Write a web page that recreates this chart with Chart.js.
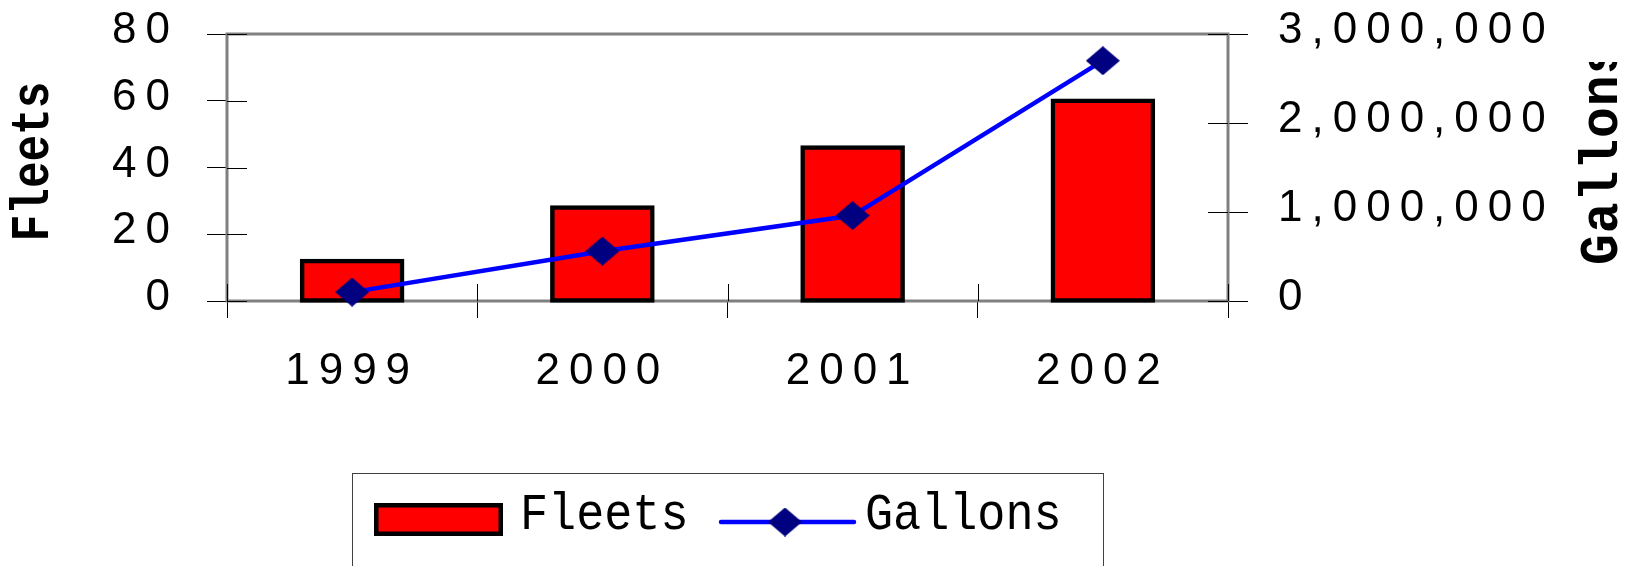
<!DOCTYPE html>
<html>
<head>
<meta charset="utf-8">
<script src="https://cdn.jsdelivr.net/npm/chart.js@4.4.1/dist/chart.umd.min.js"></script>
<style>
html, body { margin: 0; padding: 0; background: #fff; }
#chart { display: block; }
</style>
</head>
<body>
<canvas id="chart" width="1629" height="566"></canvas>
<script>
const years = ['1999', '2000', '2001', '2002'];
const fleets = [12, 28, 46, 60];
const gallons = [100000, 560000, 960000, 2700000];
const fleetTicks = [0, 20, 40, 60, 80];
const gallonTicks = [0, 1000000, 2000000, 3000000];

const RED = '#ff0000';
const BLUE = '#0000ff';
const NAVY = '#000080';
const FRAME = '#808080';
const TICK_FONT = { family: 'Liberation Sans', size: 44 };

// navy diamond marker, used for the points and the legend
function diamond(w, h) {
    const c = document.createElement('canvas');
    c.width = w;
    c.height = h;
    const g = c.getContext('2d');
    g.fillStyle = NAVY;
    g.beginPath();
    g.moveTo(w / 2, 0);
    g.lineTo(w, h / 2);
    g.lineTo(w / 2, h);
    g.lineTo(0, h / 2);
    g.closePath();
    g.fill();
    return c;
}
const marker = diamond(34, 29);

// wide letter spacing for the tick labels
const spacing = {
    id: 'spacing',
    beforeLayout(chart) { chart.ctx.letterSpacing = '9px'; },
    beforeDraw(chart) { chart.ctx.letterSpacing = '9px'; }
};

// grey plot frame and the inner half of the tick marks
const frame = {
    id: 'frame',
    beforeDatasetsDraw(chart) {
        const { ctx, chartArea: a, scales } = chart;
        ctx.save();
        ctx.strokeStyle = FRAME;
        ctx.lineWidth = 3;
        ctx.strokeRect(a.left, a.top, a.right - a.left, a.bottom - a.top);
        ctx.strokeStyle = '#000';
        ctx.lineWidth = 1;
        ctx.beginPath();
        fleetTicks.forEach(v => {
            const py = Math.round(scales.y.getPixelForValue(v)) + 0.5;
            ctx.moveTo(a.left, py);
            ctx.lineTo(a.left + 20, py);
        });
        gallonTicks.forEach(v => {
            const py = Math.round(scales.y2.getPixelForValue(v)) + 0.5;
            ctx.moveTo(a.right - 20, py);
            ctx.lineTo(a.right, py);
        });
        for (let i = 0; i <= years.length; i++) {
            const px = Math.round(scales.x.getPixelForValue(i - 0.5)) + 0.5;
            ctx.moveTo(px, a.bottom);
            ctx.lineTo(px, a.bottom - 17);
        }
        ctx.stroke();
        ctx.restore();
    }
};

// axis titles and the boxed legend
const extras = {
    id: 'extras',
    afterDraw(chart) {
        const { ctx, chartArea: a } = chart;
        const ds = chart.data.datasets;
        ctx.save();
        ctx.letterSpacing = '0px';
        ctx.fillStyle = '#000';

        // left title, reads upward
        ctx.save();
        ctx.font = 'bold 54px "Liberation Mono"';
        ctx.textAlign = 'center';
        ctx.textBaseline = 'alphabetic';
        ctx.translate(48, (a.top + a.bottom) / 2 - 6);
        ctx.rotate(-Math.PI / 2);
        ctx.scale(0.82, 1);
        ctx.fillText(ds[0].label, 0, 0);
        ctx.restore();

        // right title, also reads upward, cut at the top like the original
        ctx.save();
        ctx.beginPath();
        ctx.rect(1560, 62, 69, 300);
        ctx.clip();
        ctx.font = 'bold 54px "Liberation Mono"';
        ctx.textAlign = 'left';
        ctx.textBaseline = 'alphabetic';
        ctx.translate(1617, 265);
        ctx.rotate(-Math.PI / 2);
        ctx.scale(0.95, 1);
        ctx.letterSpacing = '1px';
        ctx.fillText(ds[1].label, 0, 0);
        ctx.restore();

        // legend
        const cx = (a.left + a.right) / 2;
        const lx = cx - 375.5;
        ctx.strokeStyle = '#404040';
        ctx.lineWidth = 1;
        ctx.strokeRect(Math.round(lx) + 0.5, 473.5, 751, 200);

        ctx.fillStyle = RED;
        ctx.fillRect(lx + 22, 503, 129, 33);
        ctx.strokeStyle = '#000';
        ctx.lineWidth = 4.5;
        ctx.strokeRect(lx + 24.25, 505.25, 124.5, 28.5);

        ctx.font = '52px "Liberation Mono"';
        ctx.fillStyle = '#000';
        ctx.textBaseline = 'alphabetic';
        ctx.textAlign = 'left';
        ctx.save();
        ctx.translate(lx + 168, 529);
        ctx.scale(0.9, 1);
        ctx.fillText(ds[0].label, 0, 0);
        ctx.restore();

        ctx.strokeStyle = BLUE;
        ctx.lineWidth = 4.5;
        ctx.lineCap = 'round';
        ctx.beginPath();
        ctx.moveTo(lx + 369, 522);
        ctx.lineTo(lx + 502, 522);
        ctx.stroke();
        ctx.drawImage(marker, lx + 433 - marker.width / 2, 522 - marker.height / 2);

        ctx.save();
        ctx.translate(lx + 513, 529);
        ctx.scale(0.9, 1);
        ctx.fillText(ds[1].label, 0, 0);
        ctx.restore();

        ctx.restore();
    }
};

// fixed scale boxes so the plot area sits where the original has it
function fixY(width) {
    return s => {
        s.width = width;
        s.paddingTop = 0;
        s.paddingBottom = 0;
    };
}

new Chart(document.getElementById('chart'), {
    data: {
        labels: years,
        datasets: [
            {
                type: 'bar',
                label: 'Fleets',
                data: fleets,
                yAxisID: 'y',
                backgroundColor: RED,
                borderColor: '#000',
                borderWidth: 4.5,
                borderSkipped: false,
                inflateAmount: 2.25,
                barPercentage: 0.4,
                categoryPercentage: 1,
                clip: false,
                order: 2
            },
            {
                type: 'line',
                label: 'Gallons',
                data: gallons,
                yAxisID: 'y2',
                borderColor: BLUE,
                borderWidth: 4.5,
                pointStyle: marker,
                pointRadius: 17,
                pointHoverRadius: 17,
                tension: 0,
                fill: false,
                clip: false,
                order: 1
            }
        ]
    },
    options: {
        responsive: false,
        animation: false,
        events: [],
        layout: { padding: { top: 34, left: 0, right: 0, bottom: 0 }, autoPadding: false },
        plugins: {
            legend: { display: false },
            tooltip: { enabled: false }
        },
        scales: {
            x: {
                offset: true,
                grid: { offset: true, drawOnChartArea: false, tickLength: 17, color: '#000', lineWidth: 1 },
                border: { display: false },
                ticks: { color: '#000', font: TICK_FONT, padding: 27, maxRotation: 0, autoSkip: false },
                afterFit: s => {
                    s.height = 265;
                    s.paddingLeft = 0;
                    s.paddingRight = 0;
                }
            },
            y: {
                position: 'left',
                min: 0,
                max: 80,
                afterBuildTicks: s => { s.ticks = fleetTicks.map(v => ({ value: v })); },
                grid: { drawOnChartArea: false, tickLength: 20, color: '#000', lineWidth: 1 },
                border: { display: false },
                ticks: { color: '#000', font: TICK_FONT, padding: 28, labelOffset: -3 },
                afterFit: fixY(227)
            },
            y2: {
                position: 'right',
                min: 0,
                max: 3000000,
                afterBuildTicks: s => { s.ticks = gallonTicks.map(v => ({ value: v })); },
                grid: { drawOnChartArea: false, tickLength: 20, color: '#000', lineWidth: 1 },
                border: { display: false },
                ticks: {
                    color: '#000',
                    font: TICK_FONT,
                    padding: 30,
                    labelOffset: -3,
                    callback: v => v.toLocaleString('en-US')
                },
                afterFit: fixY(401)
            }
        }
    },
    plugins: [spacing, frame, extras]
});
</script>
</body>
</html>
